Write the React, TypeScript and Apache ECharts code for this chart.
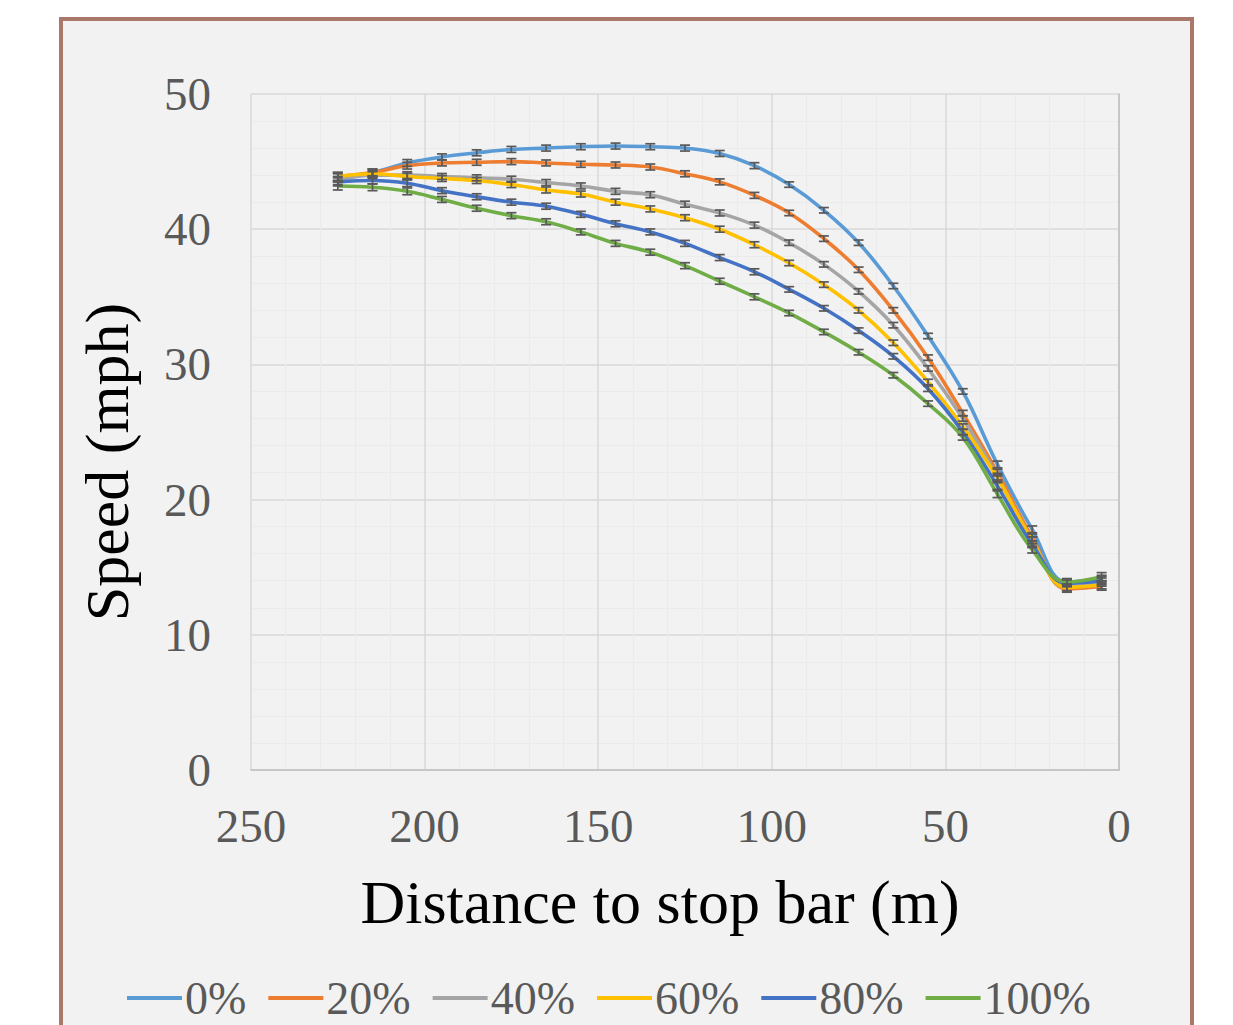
import React, { useEffect, useRef } from "react";
import * as echarts from "echarts";

const DIST = [225, 215, 205, 195, 185, 175, 165, 155, 145, 135, 125, 115, 105, 95, 85, 75, 65, 55, 45, 35, 25, 15, 5];

const SERIES_NAMES = ["0%", "20%", "40%", "60%", "80%", "100%"];
const COLORS = ["#5B9BD5", "#ED7D31", "#A5A5A5", "#FFC000", "#4472C4", "#70AD47"];

const S0 = [43.8, 44.2, 44.9, 45.35, 45.65, 45.9, 46.0, 46.1, 46.15, 46.1, 46.0, 45.6, 44.7, 43.3, 41.4, 39.0, 35.8, 32.1, 28.0, 22.6, 17.8, 13.9, 14.1];
const S20 = [43.9, 44.2, 44.7, 44.9, 44.95, 45.0, 44.9, 44.8, 44.75, 44.6, 44.1, 43.5, 42.5, 41.2, 39.3, 37.0, 34.0, 30.5, 26.4, 22.0, 17.2, 13.4, 13.6];
const S40 = [43.6, 44.0, 44.0, 43.9, 43.8, 43.7, 43.45, 43.2, 42.8, 42.55, 41.85, 41.2, 40.3, 39.0, 37.4, 35.4, 32.9, 29.7, 26.0, 21.7, 17.0, 13.5, 13.9];
const S60 = [43.9, 44.1, 43.9, 43.75, 43.6, 43.3, 42.9, 42.6, 42.0, 41.5, 40.85, 40.0, 38.85, 37.5, 35.9, 34.0, 31.6, 28.7, 25.4, 21.6, 17.0, 13.5, 13.7];
const S80 = [43.5, 43.6, 43.4, 42.85, 42.4, 42.0, 41.7, 41.1, 40.4, 39.8, 38.95, 37.9, 36.85, 35.55, 34.15, 32.5, 30.6, 28.2, 25.0, 21.0, 16.7, 13.8, 14.0];
const S100 = [43.2, 43.1, 42.8, 42.2, 41.55, 41.0, 40.55, 39.8, 38.95, 38.3, 37.3, 36.15, 35.0, 33.8, 32.4, 30.9, 29.2, 27.1, 24.6, 20.4, 16.3, 13.9, 14.3];

const ERR = [0.3, 0.25, 0.25, 0.22, 0.22, 0.22, 0.22, 0.22, 0.22, 0.22, 0.22, 0.22, 0.22, 0.2, 0.2, 0.2, 0.2, 0.2, 0.2, 0.25, 0.25, 0.25, 0.3];

const SPEEDS = [S0, S20, S40, S60, S80, S100];

const X_TICKS = [0, 50, 100, 150, 200, 250];
const Y_TICKS = [0, 10, 20, 30, 40, 50];

const FONT = "'Liberation Serif', 'Times New Roman', serif";

export default function App() {
  const ref = useRef<HTMLDivElement>(null);

  useEffect(() => {
    if (!ref.current) return;
    const chart = echarts.init(ref.current, null, { renderer: "svg" });

    const lineSeries = SPEEDS.map((vals, i) => ({
      name: SERIES_NAMES[i],
      type: "line",
      data: DIST.map((d, j) => [d, vals[j]]),
      smooth: 0.4,
      symbol: "none",
      lineStyle: { color: COLORS[i], width: 3.6 },
      itemStyle: { color: COLORS[i] },
      z: 3,
    }));

    const errSeries = SPEEDS.map((vals, i) => ({
      name: "err" + i,
      type: "custom",
      data: DIST.map((d, j) => [d, vals[j], ERR[j]]),
      z: 4,
      silent: true,
      renderItem: (params: any, api: any) => {
        const x = api.value(0);
        const y = api.value(1);
        const e = api.value(2);
        const top = api.coord([x, y + e]);
        const bot = api.coord([x, y - e]);
        const hw = 5;
        const st = { stroke: "#595959", lineWidth: 1.7 };
        return {
          type: "group",
          children: [
            { type: "line", shape: { x1: top[0], y1: top[1], x2: bot[0], y2: bot[1] }, style: st },
            { type: "line", shape: { x1: top[0] - hw, y1: top[1], x2: top[0] + hw, y2: top[1] }, style: st },
            { type: "line", shape: { x1: bot[0] - hw, y1: bot[1], x2: bot[0] + hw, y2: bot[1] }, style: st },
          ],
        };
      },
    }));

    chart.setOption({
      animation: false,
      graphic: [
        {
          type: "rect",
          z: -100,
          shape: { x: 61, y: 19, width: 1131, height: 1100 },
          style: { fill: "#F2F2F2", stroke: "#A9786B", lineWidth: 4 },
        },
        {
          type: "text",
          x: 660,
          y: 902,
          style: {
            text: "Distance to stop bar (m)",
            font: `62px ${FONT}`,
            fill: "#000000",
            textAlign: "center",
            textVerticalAlign: "middle",
          },
        },
        {
          type: "text",
          x: 107,
          y: 462,
          rotation: Math.PI / 2,
          style: {
            text: "Speed (mph)",
            font: `62px ${FONT}`,
            fill: "#000000",
            textAlign: "center",
            textVerticalAlign: "middle",
          },
        },
      ],
      grid: { left: 251, top: 94, width: 868, height: 676 },
      legend: {
        data: SERIES_NAMES,
        left: 122,
        top: 970,
        icon: "rect",
        itemWidth: 55,
        itemHeight: 4,
        itemGap: 22,
        selectedMode: false,
        textStyle: { fontFamily: FONT, fontSize: 46, lineHeight: 46, color: "#595959", padding: [0, 0, 0, -2] },
      },
      xAxis: {
        type: "value",
        inverse: true,
        min: X_TICKS[0],
        max: X_TICKS[X_TICKS.length - 1],
        interval: 50,
        axisLine: { show: true, lineStyle: { color: "#BFBFBF", width: 1.5 } },
        axisTick: { show: false },
        axisLabel: { fontFamily: FONT, fontSize: 47, color: "#595959", margin: 32 },
        splitLine: { show: true, lineStyle: { color: "#D9D9D9", width: 1.5 } },
        minorTick: { show: false, splitNumber: 5 },
        minorSplitLine: { show: true, lineStyle: { color: "#EBEBEB", width: 1 } },
      },
      yAxis: {
        type: "value",
        min: Y_TICKS[0],
        max: Y_TICKS[Y_TICKS.length - 1],
        interval: 10,
        axisLine: { show: true, lineStyle: { color: "#BFBFBF", width: 1.5 } },
        axisTick: { show: false },
        axisLabel: { fontFamily: FONT, fontSize: 47, color: "#595959", margin: 40 },
        splitLine: { show: true, lineStyle: { color: "#D9D9D9", width: 1.5 } },
        minorTick: { show: false, splitNumber: 5 },
        minorSplitLine: { show: true, lineStyle: { color: "#EBEBEB", width: 1 } },
      },
      series: [...lineSeries, ...errSeries],
    });

    return () => chart.dispose();
  }, []);

  return (
    <div
      ref={ref}
      style={{ position: "fixed", left: 0, top: 0, width: 1233, height: 1025, background: "#ffffff" }}
    />
  );
}
